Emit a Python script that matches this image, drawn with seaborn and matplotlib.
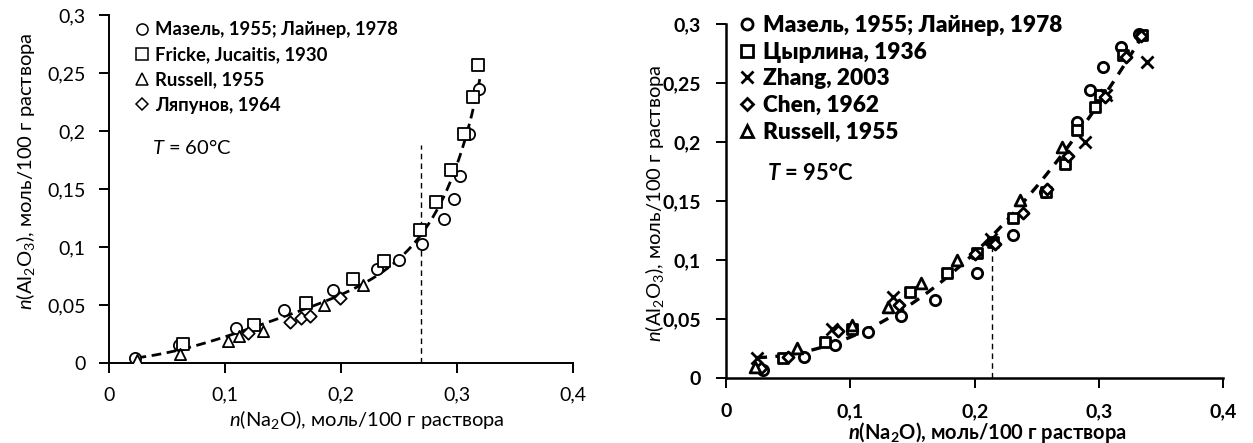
import numpy as np
import pandas as pd
import matplotlib
matplotlib.use("Agg")
import matplotlib.pyplot as plt
import seaborn as sns
from matplotlib.lines import Line2D

sns.set_theme(style="white")
plt.rcParams['font.family'] = ['Lato', 'DejaVu Sans']
plt.rcParams['mathtext.fontset'] = 'custom'
plt.rcParams['mathtext.rm'] = 'Lato'
plt.rcParams['mathtext.it'] = 'Lato:italic'
plt.rcParams['mathtext.bf'] = 'Lato:bold'
plt.rcParams['mathtext.bfit'] = 'Lato:italic:bold'

# ---------------- data: T = 60 C ----------------
L_maz_x = [0.023, 0.061, 0.110, 0.151, 0.193, 0.231, 0.250, 0.270, 0.289, 0.298, 0.303, 0.311, 0.319]
L_maz_y = [0.004, 0.0155, 0.030, 0.046, 0.063, 0.081, 0.089, 0.103, 0.124, 0.141, 0.161, 0.197, 0.236]
L_fri_x = [0.064, 0.125, 0.170, 0.211, 0.237, 0.268, 0.282, 0.295, 0.306, 0.314, 0.318]
L_fri_y = [0.016, 0.033, 0.052, 0.072, 0.088, 0.115, 0.139, 0.166, 0.197, 0.229, 0.257]
L_rus_x = [0.024, 0.0615, 0.103, 0.112, 0.133, 0.186, 0.2195]
L_rus_y = [0.003, 0.0075, 0.019, 0.023, 0.028, 0.050, 0.067]
L_lya_x = [0.120, 0.156, 0.166, 0.1735, 0.199]
L_lya_y = [0.0256, 0.0356, 0.0385, 0.0405, 0.0557]
L_labels = ["Мазель, 1955; Лайнер, 1978", "Fricke, Jucaitis, 1930", "Russell, 1955", "Ляпунов, 1964"]
L_boundary_x = 0.269
L_boundary_top = 0.188

# ---------------- data: T = 95 C ----------------
R_maz_x = [0.030, 0.063, 0.088, 0.1145, 0.141, 0.168, 0.2017, 0.231, 0.2566, 0.282, 0.293, 0.3036, 0.318, 0.332]
R_maz_y = [0.007, 0.018, 0.028, 0.0395, 0.053, 0.066, 0.0895, 0.1215, 0.1576, 0.217, 0.244, 0.264, 0.2805, 0.292]
R_tsy_x = [0.046, 0.080, 0.101, 0.148, 0.1776, 0.2017, 0.215, 0.231, 0.257, 0.2727, 0.282, 0.297, 0.301, 0.3197, 0.3345]
R_tsy_y = [0.017, 0.031, 0.042, 0.0734, 0.089, 0.106, 0.1158, 0.1356, 0.158, 0.182, 0.210, 0.2297, 0.240, 0.274, 0.291]
R_zha_x = [0.0247, 0.085, 0.1346, 0.213, 0.2887, 0.306, 0.3385]
R_zha_y = [0.017, 0.042, 0.069, 0.118, 0.200, 0.240, 0.268]
R_che_x = [0.028, 0.050, 0.090, 0.139, 0.200, 0.216, 0.239, 0.258, 0.275, 0.305, 0.322, 0.334]
R_che_y = [0.009, 0.018, 0.040, 0.062, 0.105, 0.114, 0.140, 0.160, 0.188, 0.238, 0.272, 0.290]
R_rus_x = [0.0233, 0.057, 0.101, 0.130, 0.157, 0.1855, 0.2365, 0.270]
R_rus_y = [0.0098, 0.0254, 0.045, 0.060, 0.081, 0.100, 0.151, 0.196]
R_labels = ["Мазель, 1955; Лайнер, 1978", "Цырлина, 1936", "Zhang, 2003", "Chen, 1962", "Russell, 1955"]
R_boundary_x = 0.2137
R_boundary_top = 0.112

x_ticks = [0, 0.1, 0.2, 0.3, 0.4]
x_ticklabels = ["0", "0,1", "0,2", "0,3", "0,4"]
y_ticks = [0, 0.05, 0.1, 0.15, 0.2, 0.25, 0.3]
y_ticklabels = ["0", "0,05", "0,1", "0,15", "0,2", "0,25", "0,3"]

W, H = 1253, 443
fig = plt.figure(figsize=(W / 100, H / 100), dpi=100)


def fx(px):
    return px / W


def fy(py):
    return 1 - py / H


axL = fig.add_axes([fx(108.7), fy(363), fx(572.7) - fx(108.7), fy(15) - fy(363)])
axR = fig.add_axes([fx(726), fy(378.3), fx(1223.3) - fx(726), fy(24.3) - fy(378.3)])

# ---------- left ----------
Lx_all = np.array(L_maz_x + L_fri_x + L_rus_x + L_lya_x)
Ly_all = np.array(L_maz_y + L_fri_y + L_rus_y + L_lya_y)
cL = np.polyfit(Lx_all, np.log(Ly_all), 3, w=np.sqrt(Ly_all))
xsL = np.linspace(0.024, 0.32, 200)
sns.lineplot(x=xsL, y=np.exp(np.polyval(cL, xsL)), ax=axL, color="black", lw=2.0,
             linestyle=(0, (3.5, 2)), zorder=2, estimator=None, sort=False)
sns.lineplot(x=[L_boundary_x, L_boundary_x], y=[0, L_boundary_top], ax=axL, color="black",
             lw=1.0, linestyle=(0, (4, 3)), zorder=1, estimator=None, sort=False)

mk_left = [("o", L_maz_x, L_maz_y), ("s", L_fri_x, L_fri_y), ("^", L_rus_x, L_rus_y), ("D", L_lya_x, L_lya_y)]
sizes_left = {"o": 65, "s": 65, "^": 65, "D": 40}
for m, xs, ys in mk_left:
    sns.scatterplot(x=xs, y=ys, ax=axL, marker=m, s=sizes_left[m], facecolor="white",
                    edgecolor="black", linewidth=1.3, zorder=3)

# ---------- right ----------
Rx_all = np.array(R_maz_x + R_tsy_x + R_zha_x + R_che_x + R_rus_x)
Ry_all = np.array(R_maz_y + R_tsy_y + R_zha_y + R_che_y + R_rus_y)
cR = np.polyfit(Rx_all, Ry_all, 2)
xsR = np.linspace(0.025, 0.336, 200)
sns.lineplot(x=xsR, y=np.polyval(cR, xsR), ax=axR, color="black", lw=2.4,
             linestyle=(0, (3, 2.5)), zorder=2, estimator=None, sort=False)
sns.lineplot(x=[R_boundary_x, R_boundary_x], y=[0, R_boundary_top], ax=axR, color="black",
             lw=1.0, linestyle=(0, (4, 3)), zorder=1, estimator=None, sort=False)

mk_right = [("o", R_maz_x, R_maz_y), ("s", R_tsy_x, R_tsy_y), ("x", R_zha_x, R_zha_y),
            ("D", R_che_x, R_che_y), ("^", R_rus_x, R_rus_y)]
sizes_right = {"o": 55, "s": 50, "x": 75, "D": 32, "^": 60}
for m, xs, ys in mk_right:
    if m == "x":
        sns.scatterplot(x=xs, y=ys, ax=axR, marker=m, s=sizes_right[m], color="black",
                        linewidth=2.0, zorder=3)
    else:
        sns.scatterplot(x=xs, y=ys, ax=axR, marker=m, s=sizes_right[m], facecolor="white",
                        edgecolor="black", linewidth=2.0, zorder=3)

# ---------- axes styling ----------
for ax, bold in ((axL, False), (axR, True)):
    ax.set_xlim(0, 0.4)
    ax.set_ylim(0, 0.3)
    for s in ("top", "right"):
        ax.spines[s].set_visible(False)
    for s in ("left", "bottom"):
        ax.spines[s].set_color("black")
        ax.spines[s].set_linewidth(1.8 if bold else 1.4)
    ax.set_xticks(x_ticks)
    ax.set_yticks(y_ticks)
    fw = "bold" if bold else "normal"
    ax.set_xticklabels(x_ticklabels, fontsize=14, fontweight=fw)
    ax.set_yticklabels(y_ticklabels, fontsize=14, fontweight=fw)
    ax.tick_params(axis="both", direction="out", length=7, width=1.4, color="black",
                   labelcolor="black", bottom=True, left=True)
    ax.tick_params(axis="x", pad=(11 if bold else 10))
    ax.tick_params(axis="y", pad=(11 if bold else 9.5))
    ax.grid(False)
    ax.set_facecolor("white")

axL.set_xlabel("$\\mathit{n}$(Na$_2$O), моль/100 г раствора", fontsize=14.5, color="black")
axL.xaxis.set_label_coords(0.557, -0.13)
axL.set_ylabel("$\\mathit{n}$(Al$_2$O$_3$), моль/100 г раствора", fontsize=14.5, color="black")
axL.yaxis.set_label_coords(-0.155, 0.552)
axR.set_xlabel("$\\mathbfit{n}$(Na$_\\mathbf{2}$O), моль/100 г раствора", fontsize=14.5,
               fontweight="bold", color="black")
axR.xaxis.set_label_coords(0.525, -0.118)
axR.set_ylabel("$\\mathit{n}$(Al$_2$O$_3$), моль/100 г раствора", fontsize=14.5, color="black")
axR.yaxis.set_label_coords(-0.121, 0.495)

# ---------- legends ----------
def handles(mks, right):
    hs = []
    for m in mks:
        if m == "x":
            hs.append(Line2D([], [], marker="x", ls="none", color="black", markersize=8, mew=2))
        else:
            hs.append(Line2D([], [], marker=m, ls="none", markerfacecolor="white",
                             markeredgecolor="black", markersize=(6 if m == "D" else 8),
                             mew=(2.0 if right else 1.1)))
    return hs


legL = axL.legend(handles(["o", "s", "^", "D"], False), L_labels, loc="upper left",
                  bbox_to_anchor=(fx(134.5), fy(21)), bbox_transform=fig.transFigure,
                  frameon=False, borderpad=0, borderaxespad=0, handlelength=0.8,
                  handletextpad=0.3, labelspacing=0.45, prop={"size": 13.3, "weight": "bold"})
legR = axR.legend(handles(["o", "s", "x", "D", "^"], True), R_labels, loc="upper left",
                  bbox_to_anchor=(fx(741), fy(15)), bbox_transform=fig.transFigure,
                  frameon=False, borderpad=0, borderaxespad=0, handlelength=0.55,
                  handletextpad=0.4, labelspacing=0.25, prop={"size": 16.3, "weight": "heavy"})
for t in legL.get_texts() + legR.get_texts():
    t.set_color("black")

fig.text(fx(152), fy(147), "$\\mathit{T}$ = 60°C", fontsize=14.5, va="center", ha="left", color="black")
fig.text(fx(767), fy(173), "$\\mathbfit{T}$ = 95°C", fontsize=15.8, fontweight="bold", va="center",
         ha="left", color="black")

fig.savefig("out.png", dpi=100, facecolor="white")
